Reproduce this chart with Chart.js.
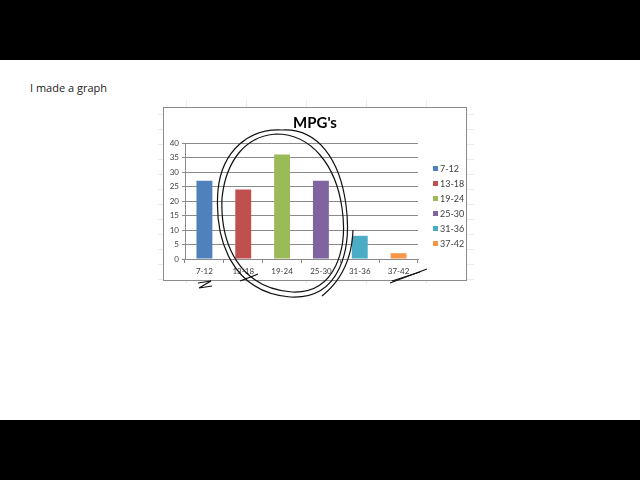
<!DOCTYPE html>
<html>
<head>
<meta charset="utf-8">
<script src="https://cdn.jsdelivr.net/npm/chart.js@4"></script>
<style>
  html, body { margin: 0; padding: 0; background: #fff; }
  body { width: 640px; height: 480px; position: relative; overflow: hidden; font-family: "Liberation Sans", "DejaVu Sans", sans-serif; }
  .bar { position: absolute; left: 0; width: 640px; height: 60px; background: #000; }
  #caption { position: absolute; left: 30px; top: 80px; font-size: 11px; color: #222; font-family: "Open Sans", "Liberation Sans", sans-serif; }
  #sheet { position: absolute; left: 158px; top: 100px; width: 316px; height: 184px;
    background-image:
      repeating-linear-gradient(to right, transparent 0 28px, #ececec 28px 29px, transparent 29px 60px),
      repeating-linear-gradient(to bottom, transparent 0 14px, #ececec 14px 15px, transparent 15px 15px); }
  #box { position: absolute; left: 163px; top: 107px; width: 302px; height: 172px; border: 1px solid #8a8a8a; background: #fff; }
  #scribble { position: absolute; left: 0; top: 0; pointer-events: none; }
</style>
</head>
<body>
<div class="bar" style="top:0"></div>
<div class="bar" style="top:420px"></div>
<div id="caption">I made a graph</div>
<div id="sheet"></div>
<div id="box"><canvas id="chart" width="302" height="172"></canvas></div>
<svg id="scribble" width="640" height="480">
  <g fill="none" stroke="#111" stroke-width="1.2">
    <path d="M282,130 C250,128 222,150 218,190 C214,240 232,292 290,297 C340,300 352,250 346,205 C340,160 318,128 282,130"/>
    <path d="M276,134 C246,136 226,160 222,198 C220,245 240,288 292,292 C336,294 348,248 342,208 C336,166 312,134 276,134"/>
    <path d="M353,230 C352,258 342,280 322,296"/>
    <path d="M198,283 L211,281 L199,288 L212,286"/>
    <path d="M390,283 L427,269"/>
    <path d="M392,281 L420,272"/>
    <path d="M240,281 L258,274"/>
  </g>
</svg>
<script>
  const categories = ["7-12", "13-18", "19-24", "25-30", "31-36", "37-42"];
  const counts = [27, 24, 36, 27, 8, 2];
  const colors = ["#4F81BD", "#C0504D", "#9BBB59", "#8064A2", "#4BACC6", "#F79646"];
  const yTicks = [0, 5, 10, 15, 20, 25, 30, 35, 40];

  const fontFamily = "Lato, 'Liberation Sans', sans-serif";

  // legend drawn per category, like Excel's "vary colors by point"
  const sideLegend = {
    id: "sideLegend",
    afterDraw(chart) {
      const ctx = chart.ctx;
      ctx.save();
      ctx.font = "9px " + fontFamily;
      ctx.textBaseline = "middle";
      for (let i = 0; i < categories.length; i++) {
        const y = 61 + i * 15;
        ctx.fillStyle = colors[i];
        ctx.fillRect(269, y - 3, 5, 5);
        ctx.fillStyle = "#404040";
        ctx.fillText(categories[i], 276, y);
      }
      ctx.restore();
    }
  };

  const ctx = document.getElementById("chart").getContext("2d");
  const myChart = new Chart(ctx, {
    type: "bar",
    data: {
      labels: categories,
      datasets: [
        {
          label: "MPG's",
          data: counts,
          backgroundColor: colors,
          borderWidth: 0,
          categoryPercentage: 1,
          barPercentage: 0.41,
        },
      ],
    },
    options: {
      responsive: false,
      animation: false,
      layout: { padding: 0 },
      plugins: {
        legend: { display: false },
        tooltip: { enabled: false },
        title: {
          display: true,
          text: "MPG's",
          color: "#000",
          font: { size: 15, weight: "bold", family: fontFamily },
          padding: { top: 6, bottom: 11 },
        },
      },
      scales: {
        y: {
          min: 0,
          max: 40,
          afterBuildTicks: (scale) => { scale.ticks = yTicks.map((v) => ({ value: v })); },
          afterFit: (scale) => { scale.width = 21; },
          ticks: { color: "#404040", font: { size: 8, family: fontFamily }, padding: 3 },
          grid: { color: "#8a8a8a", tickLength: 3 },
          border: { color: "#8a8a8a" },
        },
        // empty right axis that keeps room for the legend
        side: {
          position: "right",
          display: true,
          afterFit: (scale) => { scale.width = 48; },
          ticks: { display: false },
          grid: { display: false },
          border: { display: false },
        },
        x: {
          afterFit: (scale) => { scale.height = 21; },
          ticks: { color: "#404040", font: { size: 8, family: fontFamily }, padding: 4 },
          grid: { offset: true, drawOnChartArea: false, color: "#8a8a8a", tickLength: 4 },
          border: { color: "#8a8a8a" },
        },
      },
    },
    plugins: [sideLegend],
  });
</script>
</body>
</html>
